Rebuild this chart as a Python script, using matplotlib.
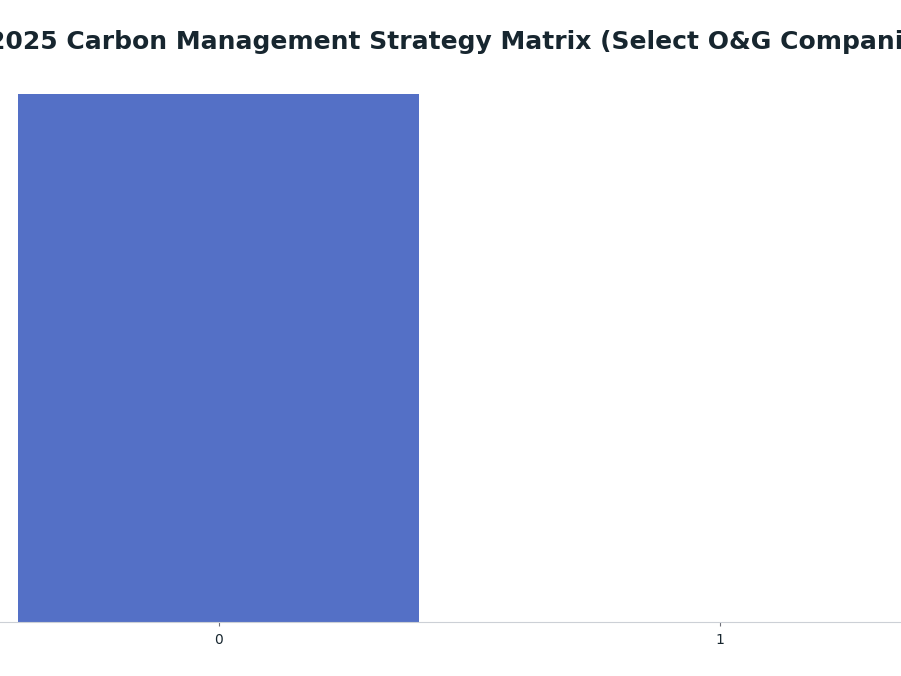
import matplotlib
matplotlib.use("Agg")
import matplotlib.pyplot as plt

title = "2025 Carbon Management Strategy Matrix (Select O&G Companies)"
categories = [0, 1]
values = [1.0, 0.0]

fig = plt.figure(figsize=(9.01, 6.76), dpi=100)
ax = fig.add_axes([0, (676 - 622) / 676, 1, (622 - 94) / 676])

ax.bar(categories, values, width=0.8, color="#5470c6")
ax.set_xlim(-218.5 / 501, 682.5 / 501)
ax.set_ylim(0, 1)
ax.set_xticks(categories)
ax.set_xticklabels([str(c) for c in categories])
ax.set_yticks([])
for s in ["top", "right", "left"]:
    ax.spines[s].set_visible(False)
ax.spines["bottom"].set_color("#ccd0d6")
ax.tick_params(axis="x", length=3, width=0.8, color="#6e7079",
               labelcolor="#17262f", labelsize=10, pad=5)

# title is wider than the canvas, runs off both edges like the original
fig.text(-11.5 / 901, 1 - 42 / 676, title, ha="left", va="center",
         fontsize=18, fontweight="bold", color="#17262f")

fig.savefig("out.png", dpi=100)
